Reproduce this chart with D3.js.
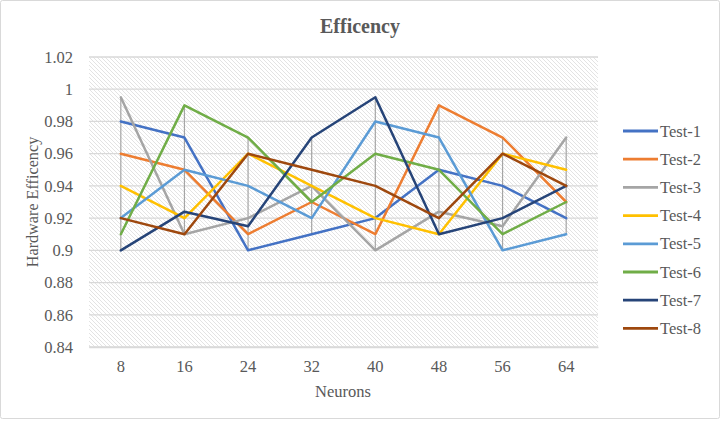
<!DOCTYPE html>
<html><head><meta charset="utf-8">
<script src="https://cdn.jsdelivr.net/npm/d3@7"></script>
<style>body{margin:0;background:#fff}svg{display:block}svg text{font-family:"Liberation Serif","Times New Roman",Times,"DejaVu Serif",serif}</style>
</head><body><svg id="c" width="720" height="421"></svg>
<script>
const categories = ["8","16","24","32","40","48","56","64"];
const seriesNames = ["Test-1","Test-2","Test-3","Test-4","Test-5","Test-6","Test-7","Test-8"];
const test1 = [0.98,0.97,0.90,0.91,0.92,0.95,0.94,0.92];
const test2 = [0.96,0.95,0.91,0.93,0.91,0.99,0.97,0.93];
const test3 = [0.995,0.91,0.92,0.94,0.90,0.924,0.915,0.97];
const test4 = [0.94,0.92,0.96,0.94,0.92,0.91,0.96,0.95];
const test5 = [0.92,0.95,0.94,0.92,0.98,0.97,0.90,0.91];
const test6 = [0.91,0.99,0.97,0.93,0.96,0.95,0.91,0.93];
const test7 = [0.90,0.924,0.915,0.97,0.995,0.91,0.92,0.94];
const test8 = [0.92,0.91,0.96,0.95,0.94,0.92,0.96,0.94];
const yTicks = [0.84,0.86,0.88,0.9,0.92,0.94,0.96,0.98,1,1.02];
const colors = ["#4472C4","#ED7D31","#A5A5A5","#FFC000","#5B9BD5","#70AD47","#264478","#9E480E"];
const allSeries = [test1,test2,test3,test4,test5,test6,test7,test8];

const svg = d3.select("#c");
const M = {l:89, t:57, r:598, b:347};

svg.append("rect").attr("x",0.5).attr("y",0.5).attr("width",719).attr("height",418)
  .attr("fill","#fff").attr("stroke","#d9d9d9").attr("stroke-width",1).attr("rx",2);

const defs = svg.append("defs");
const pat = defs.append("pattern").attr("id","hatch").attr("patternUnits","userSpaceOnUse")
  .attr("width",4).attr("height",4);
pat.append("rect").attr("width",4).attr("height",4).attr("fill","#fff");
pat.append("path").attr("d","M-1,-1 L5,5 M-1,3 L1,5 M3,-1 L5,1")
  .attr("stroke","#dcdcdc").attr("stroke-width",0.8);

const x = d3.scaleBand().domain(categories).range([M.l,M.r]);
const y = d3.scaleLinear().domain([0.84,1.02]).range([M.b,M.t]);
const cx = d => x(d) + x.bandwidth()/2;

svg.append("rect").attr("x",M.l).attr("y",M.t).attr("width",M.r-M.l).attr("height",M.b-M.t)
  .attr("fill","url(#hatch)");

svg.append("g").selectAll("line").data(yTicks).join("line")
  .attr("x1",M.l).attr("x2",M.r).attr("y1",d=>y(d)).attr("y2",d=>y(d))
  .attr("stroke","#d9d9d9").attr("stroke-width",1.3);

const yAxis = d3.axisLeft(y).tickValues(yTicks).tickSize(0).tickPadding(16)
  .tickFormat(d => String(+d.toFixed(2)));
const yg = svg.append("g").attr("transform",`translate(${M.l},0)`).call(yAxis);
yg.select(".domain").remove();
yg.attr("font-family",null);
yg.selectAll("text").attr("font-size",16.5).attr("fill","#595959");

const xAxis = d3.axisBottom(x).tickSize(0).tickPadding(13);
const xg = svg.append("g").attr("transform",`translate(0,${M.b})`).call(xAxis);
xg.attr("font-family",null);
xg.select(".domain").attr("stroke","#d9d9d9").attr("stroke-width",1.3);
xg.selectAll("text").attr("font-size",16.5).attr("fill","#595959");

svg.append("g").selectAll("line").data(categories).join("line")
  .attr("x1",d=>cx(d)).attr("x2",d=>cx(d))
  .attr("y1",(d,i)=>y(d3.max(allSeries,s=>s[i])))
  .attr("y2",(d,i)=>y(d3.min(allSeries,s=>s[i])))
  .attr("stroke","#a5a5a5").attr("stroke-width",1.2);

const line = d3.line().x((d,i)=>cx(categories[i])).y(d=>y(d));
svg.append("g").selectAll("path").data(allSeries).join("path")
  .attr("d",line).attr("fill","none")
  .attr("stroke",(d,i)=>colors[i]).attr("stroke-width",2.5)
  .attr("stroke-linejoin","round").attr("stroke-linecap","round");

svg.append("text").attr("x",360).attr("y",33).attr("text-anchor","middle")
  .attr("font-size",20).attr("font-weight","bold").attr("fill","#595959")
  .text("Efficency");

svg.append("text").attr("x",343).attr("y",397).attr("text-anchor","middle")
  .attr("font-size",16.5).attr("fill","#595959").text("Neurons");

svg.append("text").attr("transform","translate(38,202) rotate(-90)").attr("text-anchor","middle")
  .attr("font-size",16.2).attr("fill","#595959").text("Hardware Efficency");

const lg = svg.append("g").selectAll("g").data(seriesNames).join("g")
  .attr("transform",(d,i)=>`translate(623,${131 + i*28.2})`);
lg.append("line").attr("x1",0).attr("x2",35).attr("y1",0).attr("y2",0)
  .attr("stroke",(d,i)=>colors[i]).attr("stroke-width",2.8);
lg.append("text").attr("x",37).attr("y",5.5).attr("font-size",16.5)
  .attr("fill","#595959").text(d=>d);
</script></body></html>
